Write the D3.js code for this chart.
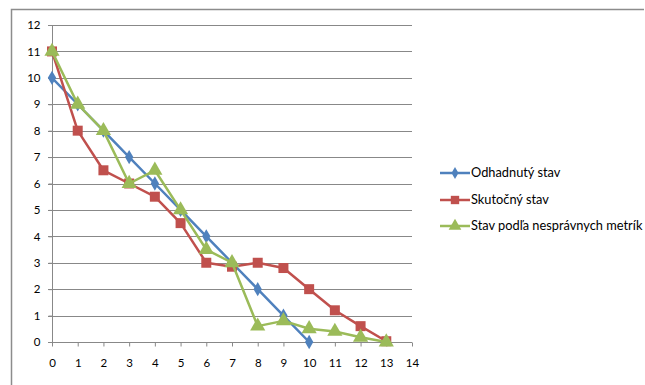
<!DOCTYPE html>
<html><head><meta charset="utf-8">
<script src="https://cdn.jsdelivr.net/npm/d3@7"></script>
<style>body{margin:0;background:#fff}svg{display:block}</style>
</head><body>
<script>
const xTicks = [0,1,2,3,4,5,6,7,8,9,10,11,12,13,14];
const yTicks = [0,1,2,3,4,5,6,7,8,9,10,11,12];
const seriesNames = ["Odhadnutý stav","Skutočný stav","Stav podľa nesprávnych metrík"];
const odhadnuty = [10,9,8,7,6,5,4,3,2,1,0];
const skutocny = [11,8,6.5,6,5.5,4.5,3,2.85,3,2.8,2,1.2,0.6,0.03];
const nespravne = [11,9,8,6,6.5,5,3.5,3,0.6,0.8,0.5,0.4,0.18,0];
const colors = ["#4F81BD","#C0504D","#9BBB59"];
const symbols = [d3.symbolDiamond, d3.symbolSquare, d3.symbolTriangle];
const symSizes = [60, 100, 100];

const W=645,H=385;
const svg=d3.select("body").append("svg").attr("width",W).attr("height",H);
// frame
svg.append("path").attr("d","M11.5,385 V9.5 H644").attr("fill","none").attr("stroke","#8c8c8c").attr("stroke-width",1.5);

const x=d3.scaleLinear().domain([0,14]).range([52,412]);
const y=d3.scaleLinear().domain([0,12]).range([342,25]);

// grid
svg.append("g").selectAll("line").data(yTicks.filter(d=>d>0)).join("line")
  .attr("x1",48).attr("x2",412).attr("y1",d=>Math.round(y(d))+0.5).attr("y2",d=>Math.round(y(d))+0.5)
  .attr("stroke","#888").attr("stroke-width",1);

const yAxis=svg.append("g").attr("transform","translate(52.5,0)")
  .call(d3.axisLeft(y).tickValues(yTicks).tickSize(4).tickPadding(8).tickFormat(d3.format("d")));
const xAxis=svg.append("g").attr("transform","translate(0,342.5)")
  .call(d3.axisBottom(x).tickValues(xTicks).tickSize(4).tickPadding(12).tickFormat(d3.format("d")));
[yAxis,xAxis].forEach(a=>{
  a.select(".domain").attr("stroke","#888");
  a.selectAll(".tick line").attr("stroke","#888");
  a.selectAll("text").attr("font-family","Lato, 'Liberation Sans', sans-serif").attr("font-size",11.5).attr("fill","#000");
});
yAxis.select(".domain").attr("d","M0,25V342");
xAxis.select(".domain").attr("d","M48,0H412");

const data=[odhadnuty,skutocny,nespravne];
const line=d3.line().x((d,i)=>x(i)).y(d=>y(d));
data.forEach((s,k)=>{
  const g=svg.append("g");
  g.append("path").datum(s).attr("d",line).attr("fill","none").attr("stroke",colors[k]).attr("stroke-width",2.5).attr("stroke-linejoin","round");
  g.selectAll("path.m").data(s).join("path").attr("class","m")
    .attr("transform",(d,i)=>`translate(${x(i)},${y(d)})`)
    .attr("d",d3.symbol().type(symbols[k]).size(symSizes[k])).attr("fill",colors[k]);
});

// legend
const lg=svg.append("g");
const ly=[173,200,226];
seriesNames.forEach((n,k)=>{
  lg.append("line").attr("x1",440).attr("x2",470).attr("y1",ly[k]).attr("y2",ly[k]).attr("stroke",colors[k]).attr("stroke-width",2.5);
  lg.append("path").attr("transform",`translate(455,${ly[k]})`).attr("d",d3.symbol().type(symbols[k]).size(symSizes[k]*0.7)).attr("fill",colors[k]);
  lg.append("text").attr("x",471).attr("y",ly[k]).attr("dy","0.35em").text(n)
    .attr("font-family","Lato, 'Liberation Sans', sans-serif").attr("font-size",12.8).attr("fill","#000");
});
</script>
</body></html>
